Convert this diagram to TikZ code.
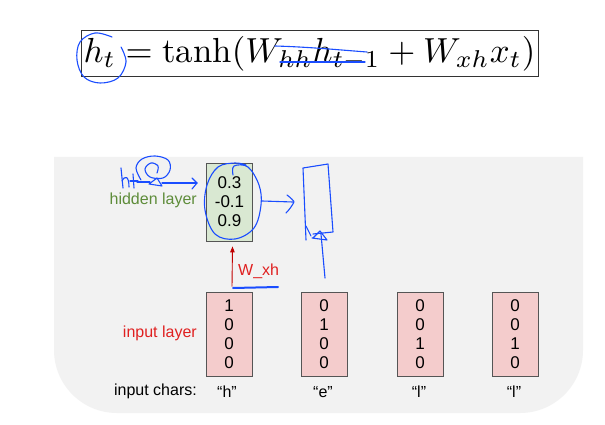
\documentclass[tikz,border=0pt]{standalone}
\usepackage{fontspec}
\newfontfamily\arial{Liberation Sans}
\usetikzlibrary{arrows.meta}
\definecolor{bggray}{HTML}{F2F2F2}
\definecolor{hidfill}{HTML}{D9E8D2}
\definecolor{infill}{HTML}{F4CCCC}
\definecolor{boxline}{HTML}{555555}
\definecolor{hidtxt}{HTML}{5E8C3A}
\definecolor{redtxt}{HTML}{E02020}
\definecolor{redarr}{HTML}{C00000}
\definecolor{pen}{HTML}{1A4DFF}
\tikzset{
  txt/.style={font=\arial\fontsize{16}{19}\selectfont, inner sep=0pt},
  vecbox/.style={draw=boxline, line width=0.8pt, minimum width=46pt, inner sep=0pt,
     align=center, font=\arial\fontsize{17}{19}\selectfont},
  hidbox/.style={vecbox, fill=hidfill, minimum height=78pt},
  inbox/.style={vecbox, fill=infill, minimum height=84pt},
  penline/.style={draw=pen, line width=1.1pt, line cap=round, line join=round},
  redarrow/.style={draw=redarr, line width=0.9pt, -{Triangle[length=6pt,width=4.5pt]}},
}
\begin{document}
\begin{tikzpicture}[x=1pt,y=-1pt]
\useasboundingbox (0,0) rectangle (605,425);
\fill[white] (0,0) rectangle (605,425);
% equation
\draw[draw=black!80, line width=0.8pt] (81,30) rectangle (538,76);
\node[inner sep=0pt, scale=3.48] (eq) at (309.5,54) {$h_t = \tanh(W_{hh}h_{t-1} + W_{xh}x_t)$};
% gray panel
\fill[bggray] (54,157) -- (583,157) -- (583,350) arc[start angle=0, end angle=90, radius=63] -- (117,413)
   arc[start angle=90, end angle=180, radius=63] -- cycle;
% hidden
\node[hidbox] (hid) at (229.5,202) {0.3\\-0.1\\0.9};
\node[txt, text=hidtxt, anchor=east] (hidlab) at (197,200) {hidden layer};
% inputs
\node[inbox] (in1) at (229,334) {1\\0\\0\\0};
\node[inbox] (in2) at (324,334) {0\\1\\0\\0};
\node[inbox] (in3) at (420,334) {0\\0\\1\\0};
\node[inbox] (in4) at (515,334) {0\\0\\1\\0};
\node[txt, text=redtxt, anchor=east] (inlab) at (197,333) {input layer};
\node[txt, anchor=east] (chlab) at (197,391) {input chars:};
\node[txt] (c1) at (227,392) {“h”};
\node[txt] (c2) at (323,392) {“e”};
\node[txt] (c3) at (419,392) {“l”};
\node[txt] (c4) at (514,392) {“l”};
% W_xh arrow
\draw[redarrow] ([xshift=3pt,yshift=5pt]in1.north) -- ([xshift=3pt,yshift=-5pt]hid.south);
\node[txt, text=redtxt, anchor=west] (wxh) at (238,271) {W\_xh};
% pen annotations
\begin{scope}[penline]
% circle around h_t
\draw plot[smooth, tension=0.6] coordinates {(112,37) (95,33) (80,42) (77,60) (84,77) (100,83) (118,78) (126,62) (121,47)};
% strike lines
\draw (275,46) .. controls (310,47) and (340,50) .. (367,52);
\draw (280,62) -- (365,62);
% h_t-1 scribble
\draw (121,168) -- (123,188);
\draw (122,181) .. controls (125,175) and (129,176) .. (129,187);
\draw (133,174) -- (134,188);
\draw (130,181) -- (138,181);
\draw (137,182) -- (150,182);
\draw plot[smooth, tension=0.6] coordinates {(141,180) (136,168) (142,159) (155,156) (168,160) (170,170) (163,178) (150,177) (145,169) (151,163) (158,166) (157,173)};
\draw (149,184) -- (157,178) -- (162,186) -- cycle;
\draw (162,183) -- (197,183);
\draw (192,178) -- (197,183) -- (192,189);
% ellipse over hidden values
\draw plot[smooth, tension=0.6] coordinates {(233,175) (234,166) (248,167) (259,185) (261,205) (254,228) (235,239) (215,234) (205,210) (207,185) (218,167) (235,163) (246,165)};
% arrow to right
\draw (262,201) -- (293,202);
\draw (287,195) .. controls (291,198) and (294,201) .. (294,202) .. controls (292,206) and (289,210) .. (286,213);
% box sketch
\draw (306,240) -- (303,168) -- (328,164) -- (333,232) -- (313,234);
\draw (306,226) -- (311,236);
\draw (313,238) -- (320,231) -- (327,240) -- (312,238);
\draw (321,234) -- (325,278);
% underline
\draw[line width=2pt] (233,288) -- (278,287);
\end{scope}
\end{tikzpicture}
\end{document}
